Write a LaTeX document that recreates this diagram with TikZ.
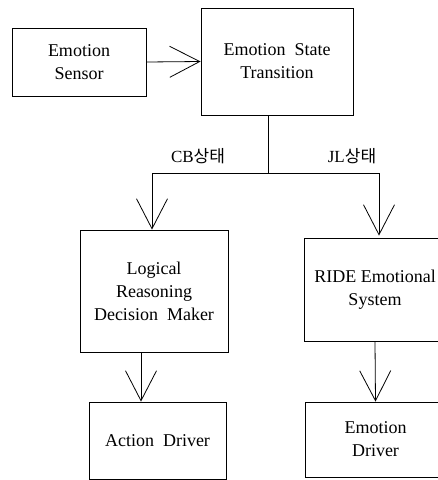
\documentclass[tikz,border=0pt]{standalone}
\usepackage{fontspec}
\setmainfont{Liberation Serif}
\newfontfamily\krfont{Noto Sans CJK KR}
\usetikzlibrary{arrows.meta,calc}
\begin{document}
\begin{tikzpicture}[x=1pt,y=-1pt,
  box/.style={draw,line width=0.8pt,rectangle,align=center,inner sep=0pt,font=\fontsize{18}{23}\selectfont},
  conn/.style={line width=0.8pt},
  arr/.style={conn,-{Straight Barb[length=30pt,width=31pt]}},
  lbl/.style={font=\fontsize{17}{20}\selectfont,inner sep=0pt}]
\useasboundingbox (0,0) rectangle (438,480);
\clip (0,0) rectangle (438,480);
\node[box,minimum width=134pt,minimum height=68pt] (sensor) at (79,62) {Emotion\\Sensor};
\node[box,minimum width=152pt,minimum height=107pt] (est) at (277,61.5) {Emotion\ \ State\\Transition};
\node[box,minimum width=148pt,minimum height=122pt] (logic) at (154,291) {Logical\\Reasoning\\Decision\ \ Maker};
\node[box,minimum width=142pt,minimum height=103pt] (ride) at (375,289.5) {RIDE Emotional\\System};
\node[box,minimum width=137pt,minimum height=77pt] (action) at (157.5,440.5) {Action\ \ Driver};
\node[box,minimum width=141pt,minimum height=75pt] (edriver) at (375.5,439.5) {Emotion\\Driver};
\node[lbl] (cb) at (198,156) {CB{\krfont 상태}};
\node[lbl] (jl) at (352,156) {JL{\krfont 상태}};
\coordinate (top) at ($(est.south)+(-9,0)$);
\coordinate (split) at (268,173);
\coordinate (L) at (152,173);
\coordinate (R) at (379,173);
\coordinate (lout) at ($(logic.south)+(-13,0)$);
\draw[arr] (sensor.east) -- (est.west);
\draw[conn] (top) -- (split);
\draw[conn] (L) -- (R);
\draw[arr] (L) -- (L |- logic.north);
\draw[arr] (R) -- ($(R |- ride.north)+(0,-2)$);
\draw[arr] (lout) -- (lout |- action.north);
\draw[arr] (ride.south) -- (edriver.north);
\end{tikzpicture}
\end{document}
